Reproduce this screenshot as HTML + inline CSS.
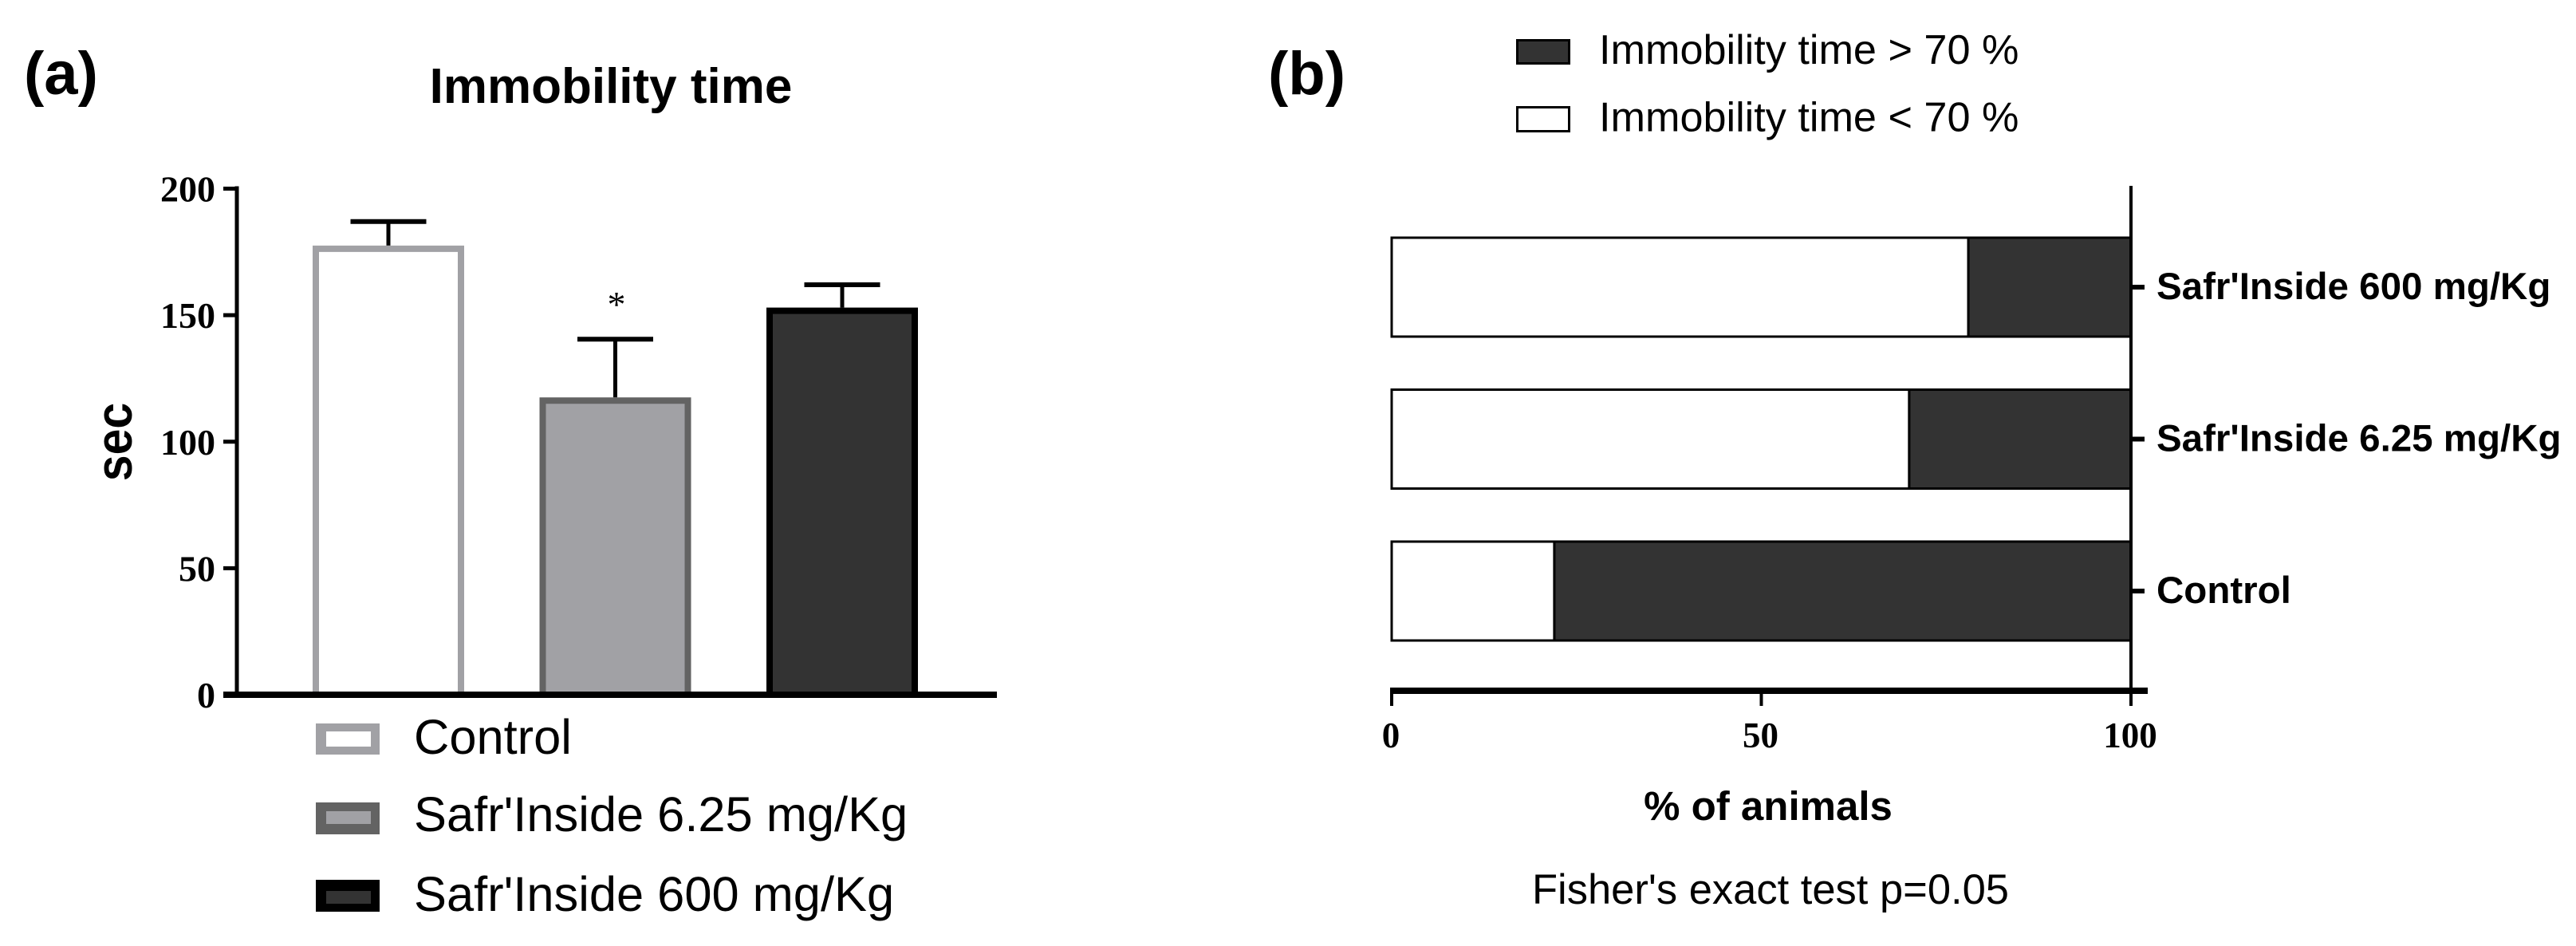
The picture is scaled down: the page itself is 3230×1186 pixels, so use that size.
<!DOCTYPE html>
<html>
<head>
<meta charset="utf-8">
<title>Immobility time</title>
<style>
html,body{margin:0;padding:0;background:#fff;}
svg{display:block;}
text{fill:#000;}
.sans{font-family:"Liberation Sans",Arial,sans-serif;}
.serif{font-family:"Liberation Serif","Times New Roman",serif;font-weight:bold;}
</style>
</head>
<body>
<svg id="figure" xmlns="http://www.w3.org/2000/svg" width="3230" height="1186" viewBox="0 0 3230 1186">
  <rect x="0" y="0" width="3230" height="1186" fill="#fff"/>
  <text class="sans" x="30" y="118" font-size="76" font-weight="bold">(a)</text>
  <text class="sans" x="1590" y="118" font-size="76" font-weight="bold">(b)</text>
  <text class="sans" x="766" y="129" font-size="62" font-weight="bold" text-anchor="middle">Immobility time</text>
  <text class="sans" font-size="59" font-weight="bold" text-anchor="middle" transform="translate(165,554) rotate(-90) scale(1,1.08)">sec</text>
  <text x="773" y="397" font-size="46" text-anchor="middle" style="font-family:'Liberation Serif',serif">*</text>

  <g>
    <g>
      <rect x="396" y="907" width="80" height="39" fill="#a1a1a5"/>
      <rect x="409" y="917" width="56" height="19" fill="#fff"/>
      <text class="sans" x="519" y="945" font-size="61.4">Control</text>
    </g>
    <g>
      <rect x="396" y="1006" width="80" height="40" fill="#636363"/>
      <rect x="409" y="1017" width="56" height="16" fill="#a1a1a5"/>
      <text class="sans" x="519" y="1042" font-size="61.4">Safr'Inside 6.25 mg/Kg</text>
    </g>
    <g>
      <rect x="396" y="1103" width="80" height="40" fill="#000"/>
      <rect x="409" y="1117" width="56" height="16" fill="#333"/>
      <text class="sans" x="519" y="1142" font-size="61.4">Safr'Inside 600 mg/Kg</text>
    </g>
  </g>

  <g>
    <g>
      <rect x="1902.5" y="50.5" width="65" height="29" fill="#333" stroke="#000" stroke-width="3"/>
      <text class="sans" x="2005" y="80" font-size="52.2">Immobility time &gt; 70 %</text>
    </g>
    <g>
      <rect x="1902.5" y="134.5" width="65" height="30" fill="#fff" stroke="#000" stroke-width="3"/>
      <text class="sans" x="2005" y="164.5" font-size="52.2">Immobility time &lt; 70 %</text>
    </g>
  </g>

  <text class="sans" x="2217" y="1028" font-size="51" font-weight="bold" text-anchor="middle">% of animals</text>
  <text class="sans" x="2220" y="1133" font-size="52.5" text-anchor="middle">Fisher's exact test p=0.05</text>

  <g id="chart-a"></g>
  <g id="chart-b"></g>
</svg>

<script>
// Panel (a) data
const groupNames = ["Control", "Safr'Inside 6.25 mg/Kg", "Safr'Inside 600 mg/Kg"];
const meanSeconds = [177.5, 117.5, 153];
const errorSeconds = [9.5, 23, 9];
const yTickValues = [0, 50, 100, 150, 200];

// Panel (b) data
const stackCategories = ["Control", "Safr'Inside 6.25 mg/Kg", "Safr'Inside 600 mg/Kg"];
const belowSeventyPercent = [22, 70, 78];
const aboveSeventyPercent = [78, 30, 22];
const xTickValues = [0, 50, 100];

const SVG_NS = 'http://www.w3.org/2000/svg';

function shape(parent, tag, name, attrs) {
  const el = document.createElementNS(SVG_NS, tag);
  
  
  for (const key in attrs) el.setAttribute(key, attrs[key]);
  parent.appendChild(el);
  return el;
}

function label(parent, name, str, attrs) {
  const el = shape(parent, 'text', name, attrs);
  el.textContent = str;
  return el;
}

function slug(str) {
  return str.toLowerCase().replace(/[^a-z0-9]+/g, '-');
}

// ---------- Panel (a) ----------
const chartA = document.getElementById('chart-a');
const yScaleA = v => 871 - v * 3.1725;
const xCenterA = i => 487 + i * 284.5;
const barWidthA = 190;
const barBorderA = 8;
const capWidthA = 95;
const barFills = ['#fff', '#a1a1a5', '#333'];
const barStrokes = ['#a1a1a5', '#636363', '#000'];

groupNames.forEach((name, i) => {
  const cx = xCenterA(i);
  const top = yScaleA(meanSeconds[i]);
  const errTop = yScaleA(meanSeconds[i] + errorSeconds[i]);
  shape(chartA, 'line', 'error-stem-' + slug(name), {
    x1: cx, x2: cx, y1: errTop, y2: top,
    stroke: '#000', 'stroke-width': 5
  });
  shape(chartA, 'line', 'error-cap-' + slug(name), {
    x1: cx - capWidthA / 2, x2: cx + capWidthA / 2, y1: errTop, y2: errTop,
    stroke: '#000', 'stroke-width': 6
  });
  shape(chartA, 'rect', 'bar-' + slug(name), {
    x: cx - barWidthA / 2 + barBorderA / 2,
    y: top + barBorderA / 2,
    width: barWidthA - barBorderA,
    height: yScaleA(0) - top - barBorderA / 2,
    fill: barFills[i],
    stroke: barStrokes[i],
    'stroke-width': barBorderA
  });
});

shape(chartA, 'line', 'y-axis-line', {
  x1: 297, x2: 297, y1: yScaleA(200) - 3, y2: yScaleA(0),
  stroke: '#000', 'stroke-width': 5
});
shape(chartA, 'line', 'x-axis-line', {
  x1: 280, x2: 1250, y1: yScaleA(0), y2: yScaleA(0),
  stroke: '#000', 'stroke-width': 8
});
yTickValues.forEach(v => {
  const y = yScaleA(v);
  shape(chartA, 'line', 'y-tick-' + v, {
    x1: 280, x2: 297, y1: y, y2: y,
    stroke: '#000', 'stroke-width': 5
  });
  label(chartA, 'y-tick-label-' + v, String(v), {
    x: 270, y: y + 16, 'text-anchor': 'end',
    'font-size': 46, class: 'serif'
  });
});

// ---------- Panel (b) ----------
const chartB = document.getElementById('chart-b');
const xScaleB = v => 1745 + v * 9.27;
const yCenterB = i => 741 - i * 190.5;
const barHeightB = 124;
const labelOffsetB = 15;

stackCategories.forEach((name, i) => {
  const top = yCenterB(i) - barHeightB / 2;
  const xStart = xScaleB(0);
  const xSplit = xScaleB(belowSeventyPercent[i]);
  const xEnd = xScaleB(belowSeventyPercent[i] + aboveSeventyPercent[i]);
  shape(chartB, 'rect', 'segment-below-70-' + slug(name), {
    x: xStart, y: top, width: xSplit - xStart, height: barHeightB,
    fill: '#fff', stroke: '#000', 'stroke-width': 3
  });
  shape(chartB, 'rect', 'segment-above-70-' + slug(name), {
    x: xSplit, y: top, width: xEnd - xSplit, height: barHeightB,
    fill: '#333', stroke: '#000', 'stroke-width': 3
  });
  shape(chartB, 'line', 'category-tick-' + slug(name), {
    x1: xScaleB(100), x2: xScaleB(100) + 17, y1: yCenterB(i), y2: yCenterB(i),
    stroke: '#000', 'stroke-width': 6
  });
  label(chartB, 'category-label-' + slug(name), name, {
    x: xScaleB(100) + 32, y: yCenterB(i) + labelOffsetB,
    'font-size': 47.5, 'font-weight': 'bold', class: 'sans'
  });
});

shape(chartB, 'line', 'right-axis-line', {
  x1: xScaleB(100), x2: xScaleB(100), y1: 233, y2: 868,
  stroke: '#000', 'stroke-width': 4
});
shape(chartB, 'line', 'percent-axis-line', {
  x1: 1743, x2: 2693, y1: 866, y2: 866,
  stroke: '#000', 'stroke-width': 8
});
xTickValues.forEach(v => {
  const x = xScaleB(v);
  shape(chartB, 'line', 'x-tick-' + v, {
    x1: x, x2: x, y1: 866, y2: 885,
    stroke: '#000', 'stroke-width': 4
  });
  label(chartB, 'x-tick-label-' + v, String(v), {
    x: x - 1, y: 937, 'text-anchor': 'middle',
    'font-size': 45, class: 'serif'
  });
});
</script>
</body>
</html>
